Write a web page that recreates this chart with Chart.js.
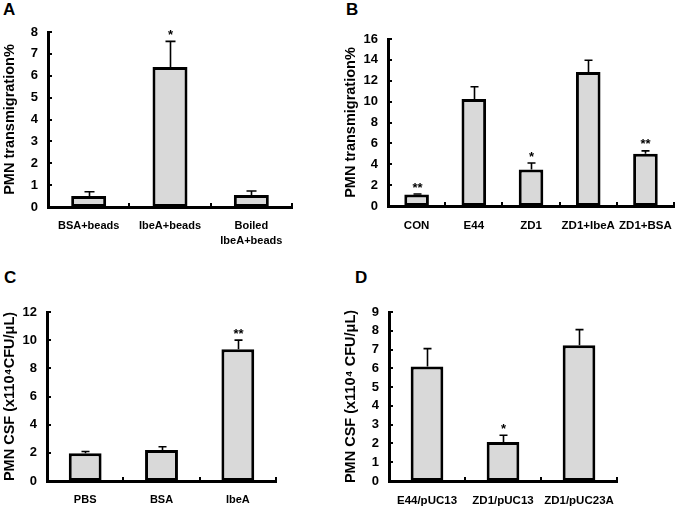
<!DOCTYPE html>
<html><head><meta charset="utf-8">
<script src="https://cdn.jsdelivr.net/npm/chart.js@4.4.0/dist/chart.umd.min.js"></script>
<style>
body{margin:0;background:#fff;width:684px;height:506px;overflow:hidden;position:relative;font-family:"Liberation Sans",Arial,sans-serif;}
canvas{position:absolute;}
.lbl{position:absolute;font-weight:bold;font-size:17px;line-height:17px;color:#000;}
</style></head><body>
<div class="lbl" style="left:3px;top:1px">A</div>
<div class="lbl" style="left:346px;top:1px">B</div>
<div class="lbl" style="left:4px;top:269px">C</div>
<div class="lbl" style="left:355px;top:269px">D</div>
<canvas id="cA" style="left:0;top:0" width="342" height="253"></canvas>
<canvas id="cB" style="left:342px;top:0" width="342" height="253"></canvas>
<canvas id="cC" style="left:0;top:253px" width="342" height="253"></canvas>
<canvas id="cD" style="left:342px;top:253px" width="342" height="253"></canvas>
<script>
// Panel A
const catsA = ['BSA+beads', 'IbeA+beads', ['Boiled', 'IbeA+beads']];
const valsA = [0.5, 6.4, 0.55];
const errA = [0.2, 1.17, 0.18];
const starsA = ['', '*', ''];
// Panel B
const catsB = ['CON', 'E44', 'ZD1', 'ZD1+IbeA', 'ZD1+BSA'];
const valsB = [1.1, 10.25, 3.5, 12.85, 5.0];
const errB = [0.05, 1.18, 0.62, 1.12, 0.28];
const starsB = ['**', '', '*', '', '**'];
// Panel C
const catsC = ['PBS', 'BSA', 'IbeA'];
const valsC = [1.97, 2.2, 9.35];
const errC = [0.12, 0.23, 0.65];
const starsC = ['', '', '**'];
// Panel D
const catsD = ['E44/pUC13', 'ZD1/pUC13', 'ZD1/pUC23A'];
const valsD = [6.1, 2.08, 7.23];
const errD = [0.95, 0.36, 0.83];
const starsD = ['', '*', ''];

const titleAB = 'PMN transmigration%';
const titleC = 'PMN CSF (x110\u2074CFU/\u03bcL)';
const titleD = 'PMN CSF (x110\u2074 CFU/\u03bcL)';

const FONT = '"Liberation Sans", Arial, sans-serif';

const decoPlugin = {
  id: 'deco',
  afterDatasetsDraw(chart, args, opts) {
    const ctx = chart.ctx;
    const ys = chart.scales.y, xs = chart.scales.x;
    const ca = chart.chartArea;
    const meta = chart.getDatasetMeta(0);
    ctx.save();
    ctx.strokeStyle = '#000';
    ctx.fillStyle = '#000';
    ctx.lineWidth = 2;
    ys.ticks.forEach(t => {
      if (t.value === 0) return;
      const y = Math.round(ys.getPixelForValue(t.value));
      ctx.beginPath(); ctx.moveTo(ca.left, y); ctx.lineTo(ca.left + 4, y); ctx.stroke();
    });
    const n = xs.ticks.length;
    for (let i = 1; i <= n; i++) {
      let x;
      if (i < n) x = (xs.getPixelForValue(i - 1) + xs.getPixelForValue(i)) / 2;
      else x = ca.right;
      x = Math.round(x);
      ctx.fillRect(x - 1, ca.bottom - 4, 2, 3);
    }
    const vals = opts.vals, errs = opts.errs, stars = opts.stars;
    ctx.lineWidth = 1.6;
    meta.data.forEach((bar, i) => {
      const x = Math.round(bar.x) + 0.5;
      const yTop = ys.getPixelForValue(vals[i]);
      const yCap = ys.getPixelForValue(vals[i] + errs[i]);
      ctx.beginPath(); ctx.moveTo(x, yTop); ctx.lineTo(x, yCap);
      ctx.moveTo(x - opts.cap / 2, yCap); ctx.lineTo(x + opts.cap / 2, yCap);
      ctx.stroke();
      if (stars[i]) {
        ctx.font = 'bold 13px ' + FONT;
        ctx.textAlign = 'center';
        ctx.textBaseline = 'middle';
        ctx.fillText(stars[i], x, yCap - 6);
      }
    });
    ctx.restore();
  }
};

function makeChart(id, cats, vals, errs, stars, yMax, yStep, title, geo) {
  return new Chart(document.getElementById(id), {
    type: 'bar',
    data: {
      labels: cats,
      datasets: [{
        data: vals,
        backgroundColor: '#d9d9d9',
        borderColor: '#000',
        borderWidth: 3,
        borderSkipped: false,
        barPercentage: 0.43,
        categoryPercentage: 1.0
      }]
    },
    plugins: [decoPlugin],
    options: {
      responsive: false,
      animation: false,
      events: [],
      layout: { padding: { left: 0, top: geo.top, right: geo.right, bottom: 0 } },
      plugins: {
        legend: { display: false },
        tooltip: { enabled: false },
        deco: { vals: vals, errs: errs, stars: stars, cap: geo.cap }
      },
      scales: {
        x: {
          offset: true,
          grid: { display: false, drawTicks: false },
          border: { display: true, color: '#000', width: 3 },
          ticks: {
            color: '#000', padding: 12, maxRotation: 0, autoSkip: false,
            font: { family: FONT, size: geo.xfs, weight: 'bold', lineHeight: 1.35 }
          },
          afterFit(s) { s.height = geo.xh; }
        },
        y: {
          min: 0, max: yMax,
          grid: { display: false, drawTicks: false },
          border: { display: true, color: '#000', width: 3 },
          ticks: {
            stepSize: yStep, color: '#000', padding: 10,
            font: { family: FONT, size: 13, weight: 'bold' }
          },
          title: {
            display: true, text: title, color: '#000',
            padding: { top: geo.tp, bottom: 0 },
            font: { family: FONT, size: 14.5, weight: 'bold', lineHeight: 1.2 }
          },
          afterFit(s) { s.width = geo.yw; }
        }
      }
    }
  });
}

makeChart('cA', catsA, valsA, errA, starsA, 8, 1, titleAB,
  { top: 32, right: 50, xh: 46, yw: 48, cap: 10, xfs: 11, tp: 1 });
makeChart('cB', catsB, valsB, errB, starsB, 16, 2, titleAB,
  { top: 39, right: 2, xh: 47, yw: 46, cap: 8, xfs: 11.5, tp: 0 });
makeChart('cC', catsC, valsC, errC, starsC, 12, 2, titleC,
  { top: 59, right: 66, xh: 25, yw: 47, cap: 8, xfs: 11, tp: 1 });
makeChart('cD', catsD, valsD, errD, starsD, 9, 1, titleD,
  { top: 59, right: 67, xh: 25, yw: 47, cap: 8, xfs: 11.5, tp: 0 });
</script>
</body></html>
